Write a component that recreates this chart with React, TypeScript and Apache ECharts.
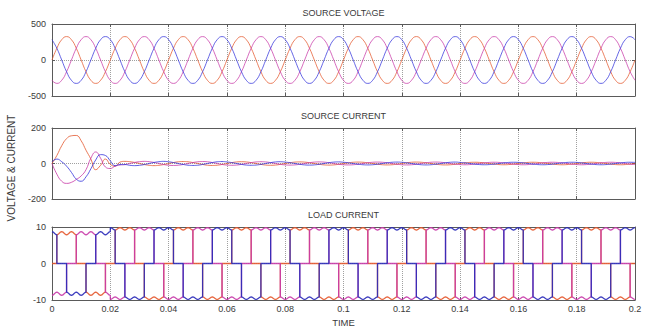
import React, { useEffect, useRef } from "react";
import * as echarts from "echarts";

// ---------- data ----------
const T_MAX = 0.2;
const TIME_INTERVAL = 0.02;
const CYCLES = 10;
const STEPS_PER_CYCLE = 12; // samples every 30 degrees of a 50 Hz cycle
const DT = 0.02 / STEPS_PER_CYCLE;

// Source voltage, one cycle per phase (V), repeated for every cycle
const voltageCycleA = [0, 163, 282, 325, 282, 163, 0, -163, -282, -325, -282, -163];
const voltageCycleB = [-282, -325, -282, -163, 0, 163, 282, 325, 282, 163, 0, -163];
const voltageCycleC = [282, 163, 0, -163, -282, -325, -282, -163, 0, 163, 282, 325];

// Source current, start-up transient (t = 0 .. 0.0383 s every DT)
const currentTransientA = [0, 45, 100, 140, 156, 158, 128, 75, 25, -35, -10, 25, -5, -15, 8, 12, 10, 6, 0, -6, -10, -12, -10, -6];
const currentTransientB = [0, -60, -100, -112, -106, -90, -70, -35, 30, 65, 30, -20, -28, -15, -8, -6, 0, 6, 10, 12, 10, 6, 0, -6];
const currentTransientC = [10, 25, 10, -15, -50, -88, -100, -75, -30, 20, 50, 45, 15, -12, -6, -6, -10, -12, -10, -6, 0, 6, 10, 12];
// Source current steady state: cycle shape per phase and amplitude per cycle (cycles 2..9)
const currentShapeA = [0, 0.5, 0.87, 1, 0.87, 0.5, 0, -0.5, -0.87, -1, -0.87, -0.5];
const currentShapeB = [-0.87, -1, -0.87, -0.5, 0, 0.5, 0.87, 1, 0.87, 0.5, 0, -0.5];
const currentShapeC = [0.87, 0.5, 0, -0.5, -0.87, -1, -0.87, -0.5, 0, 0.5, 0.87, 1];
const currentAmplitude = [11, 10, 9, 8, 8, 7, 7, 7];

// Load current: conduction state per 30-degree step, level per cycle, ripple per cycle
const loadPatternA = [0, 1, 1, 1, 1, 0, 0, -1, -1, -1, -1, 0];
const loadPatternB = [-1, -1, -1, 0, 0, 1, 1, 1, 1, 0, 0, -1];
const loadPatternC = [1, 0, 0, -1, -1, -1, -1, 0, 0, 1, 1, 1];
const loadAmplitude = [8.3, 9.5, 9.5, 9.5, 9.5, 9.5, 9.5, 9.5, 9.5, 9.5];
const loadRipple = [0.45, 0.35, 0.35, 0.35, 0.35, 0.35, 0.35, 0.35, 0.35, 0.35];
const rippleShape = [1, 0.7, 0, -0.7, -1];

const panelTitles = ["SOURCE VOLTAGE", "SOURCE CURRENT", "LOAD CURRENT"];
const yRanges = [
  { min: -500, max: 500, interval: 500 },
  { min: -200, max: 200, interval: 200 },
  { min: -10, max: 10, interval: 10 },
];

const COLOR_A = "#e4582e";
const COLOR_B = "#c83aa8";
const COLOR_C = "#3434dc";
const COLOR_C_DARK = "#2a2ab8";

// ---------- builders ----------
function periodic(cycle: number[]): number[][] {
  const pts: number[][] = [];
  for (let c = 0; c < CYCLES; c++) {
    for (let k = 0; k < STEPS_PER_CYCLE; k++) {
      pts.push([(c * STEPS_PER_CYCLE + k) * DT, cycle[k]]);
    }
  }
  pts.push([CYCLES * STEPS_PER_CYCLE * DT, cycle[0]]);
  return pts;
}

function sourceCurrent(transient: number[], shape: number[]): number[][] {
  const pts: number[][] = transient.map((v, i) => [i * DT, v]);
  for (let c = 2; c < CYCLES; c++) {
    for (let k = 0; k < STEPS_PER_CYCLE; k++) {
      pts.push([(c * STEPS_PER_CYCLE + k) * DT, currentAmplitude[c - 2] * shape[k]]);
    }
  }
  pts.push([CYCLES * STEPS_PER_CYCLE * DT, currentAmplitude[currentAmplitude.length - 1] * shape[0]]);
  return pts;
}

function loadCurrent(pattern: number[]): number[][] {
  const pts: number[][] = [];
  for (let c = 0; c < CYCLES; c++) {
    for (let u = 0; u < STEPS_PER_CYCLE; u++) {
      const t0 = (c * STEPS_PER_CYCLE + u) * DT;
      const s = u % 2 === 0 ? 1 : -1;
      const level = pattern[u];
      for (let j = 0; j < rippleShape.length; j++) {
        const t = t0 + (j / (rippleShape.length - 1)) * DT;
        const v = level === 0 ? 0 : level * (loadAmplitude[c] + rippleShape[j] * s * loadRipple[c]);
        pts.push([t, v]);
      }
    }
  }
  return pts;
}

const FONT = "Liberation Sans, Arial, Helvetica, sans-serif";

export default function App() {
  const ref = useRef<HTMLDivElement>(null);
  useEffect(() => {
    document.body.style.margin = "0";
    if (!ref.current) return;
    const chart = echarts.init(ref.current, undefined, { renderer: "svg" });

    const grids = [
      { left: 52, right: 10, top: 24, height: 72 },
      { left: 52, right: 10, top: 128, height: 71 },
      { left: 52, right: 10, top: 227, height: 73 },
    ];

    const axisColor = "#5a5a5a";
    const xAxes: any[] = [];
    const yAxes: any[] = [];
    for (let i = 0; i < 3; i++) {
      xAxes.push({
        type: "value",
        gridIndex: i,
        min: 0,
        max: T_MAX,
        interval: TIME_INTERVAL,
        axisLine: { show: true, onZero: false, lineStyle: { color: axisColor, width: 1 } },
        axisTick: { show: true, inside: true, length: 3, lineStyle: { color: axisColor } },
        axisLabel: {
          show: i === 2,
          fontSize: 9,
          color: "#3a3a3a",
          fontFamily: FONT,
          margin: 4,
          formatter: (v: number) => String(+v.toFixed(2)),
        },
        splitLine: { show: true, lineStyle: { type: "dotted", color: "#a0a0a0", width: 1 } },
      });
    }
    for (let i = 0; i < 3; i++) {
      xAxes.push({
        type: "value",
        gridIndex: i,
        position: "top",
        min: 0,
        max: T_MAX,
        interval: TIME_INTERVAL,
        axisLine: { show: true, onZero: false, lineStyle: { color: axisColor, width: 1 } },
        axisTick: { show: true, inside: true, length: 3, lineStyle: { color: axisColor } },
        axisLabel: { show: false },
        splitLine: { show: false },
      });
    }
    for (let i = 0; i < 3; i++) {
      yAxes.push({
        type: "value",
        gridIndex: i,
        ...yRanges[i],
        axisLine: { show: true, onZero: false, lineStyle: { color: axisColor, width: 1 } },
        axisTick: { show: true, inside: true, length: 3, lineStyle: { color: axisColor } },
        axisLabel: { fontSize: 9, color: "#3a3a3a", fontFamily: FONT, margin: 6 },
        splitLine: { show: true, lineStyle: { type: "dotted", color: "#a0a0a0", width: 1 } },
      });
    }
    for (let i = 0; i < 3; i++) {
      yAxes.push({
        type: "value",
        gridIndex: i,
        position: "right",
        ...yRanges[i],
        axisLine: { show: true, onZero: false, lineStyle: { color: axisColor, width: 1 } },
        axisTick: { show: true, inside: true, length: 3, lineStyle: { color: axisColor } },
        axisLabel: { show: false },
        splitLine: { show: false },
      });
    }

    const line = (data: number[][], panel: number, color: string, smooth: boolean, width: number, opacity: number) => ({
      type: "line",
      xAxisIndex: panel,
      yAxisIndex: panel,
      data,
      smooth,
      symbol: "none",
      showSymbol: false,
      lineStyle: { color, width, opacity },
      itemStyle: { color },
      silent: true,
    });

    const series = [
      line(periodic(voltageCycleA), 0, COLOR_A, true, 1, 0.75),
      line(periodic(voltageCycleB), 0, COLOR_B, true, 1, 0.75),
      line(periodic(voltageCycleC), 0, COLOR_C, true, 1, 0.75),
      line(sourceCurrent(currentTransientA, currentShapeA), 1, COLOR_A, true, 1, 0.8),
      line(sourceCurrent(currentTransientB, currentShapeB), 1, COLOR_B, true, 1, 0.8),
      line(sourceCurrent(currentTransientC, currentShapeC), 1, COLOR_C, true, 1, 0.8),
      line(loadCurrent(loadPatternA), 2, COLOR_A, false, 1.3, 0.9),
      line(loadCurrent(loadPatternB), 2, COLOR_B, false, 1.3, 0.9),
      line(loadCurrent(loadPatternC), 2, COLOR_C_DARK, false, 1.3, 0.9),
    ];

    const centerX = 52 + (645 - 52 - 10) / 2;
    const titleY = [13, 116, 215];
    const graphic: any[] = panelTitles.map((t, i) => ({
      type: "text",
      x: centerX,
      y: titleY[i],
      style: { text: t, fontSize: 9, fill: "#3a3a3a", fontFamily: FONT, align: "center", verticalAlign: "middle" },
    }));
    graphic.push({
      type: "text",
      x: centerX,
      y: 322,
      style: { text: "TIME", fontSize: 9.5, fill: "#3a3a3a", fontFamily: FONT, align: "center", verticalAlign: "middle" },
    });
    graphic.push({
      type: "text",
      x: 11,
      y: 168,
      rotation: Math.PI / 2,
      style: { text: "VOLTAGE & CURRENT", fontSize: 10, fill: "#3a3a3a", fontFamily: FONT, align: "center", verticalAlign: "middle" },
    });

    chart.setOption({
      animation: false,
      backgroundColor: "#ffffff",
      grid: grids,
      xAxis: xAxes,
      yAxis: yAxes,
      series,
      graphic,
    });
    return () => chart.dispose();
  }, []);
  return <div ref={ref} style={{ width: 645, height: 328 }} />;
}
